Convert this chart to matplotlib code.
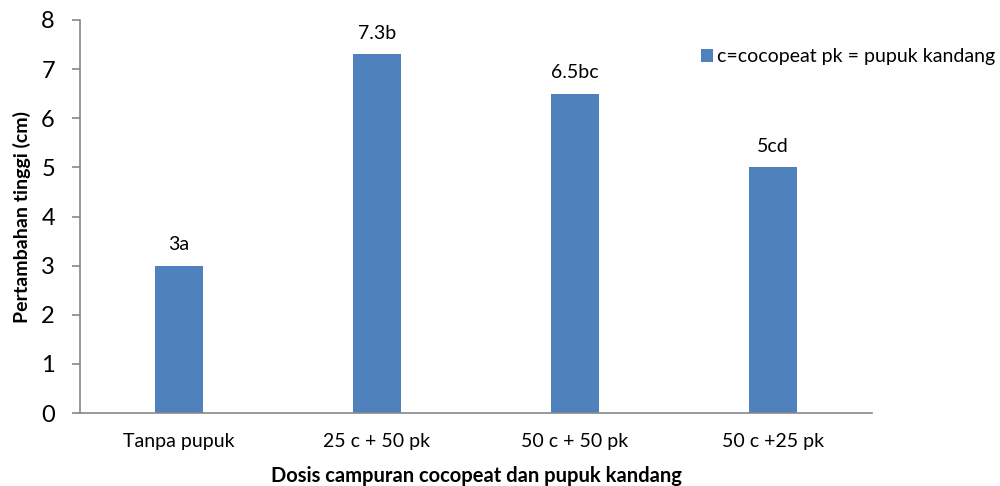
import matplotlib
matplotlib.use("Agg")
import matplotlib.pyplot as plt
from matplotlib.patches import Patch

categories = ["Tanpa pupuk", "25 c + 50 pk", "50 c + 50 pk", "50 c +25 pk"]
values = [3.0, 7.3, 6.5, 5.0]
labels = ["3a", "7.3b", "6.5bc", "5cd"]
yticks = [0, 1, 2, 3, 4, 5, 6, 7, 8]

plt.rcParams["font.family"] = ["Lato", "DejaVu Sans"]

fig = plt.figure(figsize=(10, 4.86), dpi=100)
ax = fig.add_axes([0.08, 0.150, 0.792, 0.809])

bar_color = "#4F81BD"
x = list(range(len(categories)))
ax.bar(x, values, width=0.24, color=bar_color)

for xi, v, lab in zip(x, values, labels):
    ax.text(xi, v + 0.26, lab, ha="center", va="bottom", fontsize=14, color="#000000")

ax.set_xlim(-0.5, len(categories) - 0.5)
ax.set_ylim(0, 8)
ax.set_yticks(yticks)
ax.set_yticklabels([str(t) for t in yticks], fontsize=17)
ax.set_xticks(x)
ax.set_xticklabels(categories, fontsize=14)

for side in ["top", "right"]:
    ax.spines[side].set_visible(False)
for side in ["left", "bottom"]:
    ax.spines[side].set_color("#888888")
    ax.spines[side].set_linewidth(1.2)
ax.tick_params(axis="y", length=6, width=1.2, color="#888888", pad=12)
ax.tick_params(axis="x", length=0, pad=14)

ax.set_ylabel("Pertambahan tinggi (cm)", fontsize=14, fontweight="bold", labelpad=7)
ax.set_xlabel("Dosis campuran cocopeat dan pupuk kandang", fontsize=14.5,
              fontweight="bold", labelpad=12)

handle = Patch(facecolor=bar_color, edgecolor="none")
fig.legend([handle], ["c=cocopeat pk = pupuk kandang"], loc="center left",
           bbox_to_anchor=(0.697, 0.883), frameon=False, fontsize=14,
           handlelength=0.6, handleheight=0.6, handletextpad=0.25,
           borderaxespad=0, borderpad=0.2)

fig.savefig("out.png", dpi=100)
